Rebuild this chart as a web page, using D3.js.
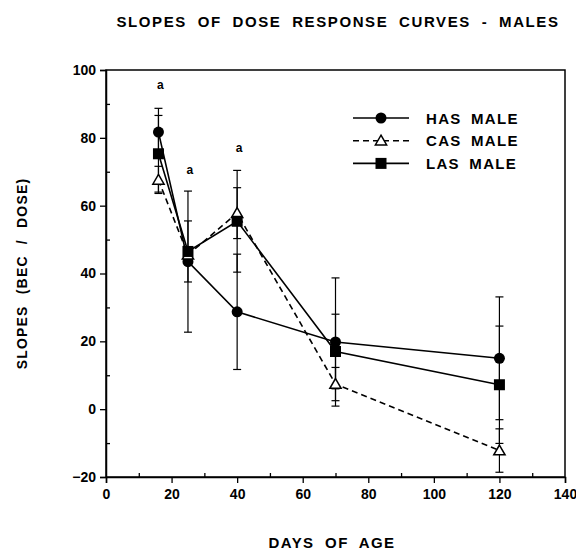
<!DOCTYPE html>
<html>
<head>
<meta charset="utf-8">
<script src="https://cdn.jsdelivr.net/npm/d3@7"></script>
<style>
  body { margin: 0; background: #fff; }
  text { font-family: "Liberation Sans", Arial, sans-serif; font-weight: bold; fill: #000; }
</style>
</head>
<body>
<div id="chart"></div>
<script>
// values
var days = [16, 25, 40, 70, 120];
var hasMale = [81.7, 43.5, 28.7, 19.8, 15.0];
var hasErr = [7, 20.8, 17, 18.9, 18.1];
var casMale = [67.6, 45.5, 57.8, 7.4, -12.2];
var casErr = [4, 0, 7.5, 4.9, 6.4];
var lasMale = [75.3, 46.5, 55.4, 17.0, 7.2];
var lasErr = [11.3, 9, 15, 11, 17.3];
var xTicks = [0, 20, 40, 60, 80, 100, 120, 140];
var yTicks = [-20, 0, 20, 40, 60, 80, 100];
var sigDays = [16, 25, 40];
var sigY = [95.5, 70.6, 77];

var series = [
  {name: "HAS MALE", values: hasMale, err: hasErr, symbol: "circle", dash: null},
  {name: "CAS MALE", values: casMale, err: casErr, symbol: "triangle", dash: "6,4"},
  {name: "LAS MALE", values: lasMale, err: lasErr, symbol: "square", dash: null}
];

var width = 576, height = 550;
var margin = {top: 70, right: 11, bottom: 73, left: 106};

var svg = d3.select("#chart").append("svg")
    .attr("width", width)
    .attr("height", height);

var x = d3.scaleLinear().domain([0, 140]).range([margin.left, width - margin.right]);
var y = d3.scaleLinear().domain([-20, 100]).range([height - margin.bottom, margin.top]);

// frame
svg.append("rect")
    .attr("x", x(0)).attr("y", y(100))
    .attr("width", x(140) - x(0)).attr("height", y(-20) - y(100))
    .attr("fill", "none").attr("stroke", "#000").attr("stroke-width", 1.5);

// x axis: major ticks out, minor ticks in
svg.append("g")
    .attr("transform", "translate(0," + y(-20) + ")")
    .call(d3.axisBottom(x).tickValues(xTicks).tickSize(6).tickPadding(6).tickFormat(d3.format("d")));
svg.append("g")
    .attr("transform", "translate(0," + y(-20) + ")")
    .call(d3.axisTop(x).tickValues(d3.range(10, 140, 20)).tickSize(4).tickFormat(""))
    .select(".domain").remove();

svg.append("g")
    .attr("transform", "translate(" + x(0) + ",0)")
    .call(d3.axisLeft(y).tickValues(yTicks).tickSize(6).tickPadding(4).tickFormat(d3.format("d")));
svg.append("g")
    .attr("transform", "translate(" + x(0) + ",0)")
    .call(d3.axisRight(y).tickValues(d3.range(-10, 100, 20)).tickSize(4).tickFormat(""))
    .select(".domain").remove();

svg.selectAll(".domain").attr("stroke-width", 1.5);
svg.selectAll(".tick line").attr("stroke-width", 1.3);
svg.selectAll(".tick text").style("font-size", "14px");

// error bars
series.forEach(function(s) {
  var g = svg.append("g");
  days.forEach(function(d, i) {
    if (!s.err[i]) return;
    var hi = y(s.values[i] + s.err[i]), lo = y(s.values[i] - s.err[i]);
    g.append("line").attr("x1", x(d)).attr("x2", x(d)).attr("y1", hi).attr("y2", lo)
        .attr("stroke", "#000").attr("stroke-width", 1.2);
    [hi, lo].forEach(function(c) {
      g.append("line").attr("x1", x(d) - 4).attr("x2", x(d) + 4).attr("y1", c).attr("y2", c)
          .attr("stroke", "#000").attr("stroke-width", 1.2);
    });
  });
});

var line = d3.line()
    .x(function(d, i) { return x(days[i]); })
    .y(function(d) { return y(d); });

series.forEach(function(s) {
  svg.append("path")
      .datum(s.values)
      .attr("d", line)
      .attr("fill", "none")
      .attr("stroke", "#000")
      .attr("stroke-width", 1.6)
      .attr("stroke-dasharray", s.dash);
});

function drawSymbol(g, type, cx, cy) {
  if (type == "circle") {
    g.append("circle").attr("cx", cx).attr("cy", cy).attr("r", 5.5).attr("fill", "#000");
  } else if (type == "square") {
    g.append("rect").attr("x", cx - 5.5).attr("y", cy - 5.5).attr("width", 11).attr("height", 11).attr("fill", "#000");
  } else {
    g.append("path")
        .attr("d", d3.symbol().type(d3.symbolTriangle).size(55)())
        .attr("transform", "translate(" + cx + "," + (cy + 1) + ")")
        .attr("fill", "#fff").attr("stroke", "#000").attr("stroke-width", 1.5);
  }
}

series.forEach(function(s) {
  var g = svg.append("g");
  s.values.forEach(function(v, i) { drawSymbol(g, s.symbol, x(days[i]), y(v)); });
});

// significance marks
svg.selectAll(".sig")
    .data(sigDays)
    .enter()
    .append("text")
    .attr("x", function(d) { return x(d) + 2; })
    .attr("y", function(d, i) { return y(sigY[i]) + 4; })
    .attr("text-anchor", "middle")
    .style("font-size", "12px")
    .text("a");

// legend
var legend = svg.append("g").attr("transform", "translate(353,118)");
series.forEach(function(s, i) {
  var row = legend.append("g").attr("transform", "translate(0," + (i * 22.7) + ")");
  row.append("line").attr("x1", 0).attr("x2", 56).attr("y1", 0).attr("y2", 0)
      .attr("stroke", "#000").attr("stroke-width", 1.6).attr("stroke-dasharray", s.dash);
  drawSymbol(row, s.symbol, 28, 0);
  row.append("text").attr("x", 73).attr("y", 5.5)
      .style("font-size", "15px").style("letter-spacing", "1.3px").style("word-spacing", "4px")
      .text(s.name);
});

// titles
svg.append("text")
    .attr("x", 338).attr("y", 27)
    .attr("text-anchor", "middle")
    .style("font-size", "15px").style("letter-spacing", "1.6px").style("word-spacing", "5px")
    .text("SLOPES OF DOSE RESPONSE CURVES - MALES");

svg.append("text")
    .attr("x", 332).attr("y", 548)
    .attr("text-anchor", "middle")
    .style("font-size", "15px").style("letter-spacing", "1.4px").style("word-spacing", "5px")
    .text("DAYS OF AGE");

svg.append("text")
    .attr("transform", "translate(27," + y(40) + ") rotate(-90)")
    .attr("text-anchor", "middle")
    .style("font-size", "14px").style("letter-spacing", "1.2px").style("word-spacing", "6px")
    .text("SLOPES  (BEC / DOSE)");
</script>
</body>
</html>
